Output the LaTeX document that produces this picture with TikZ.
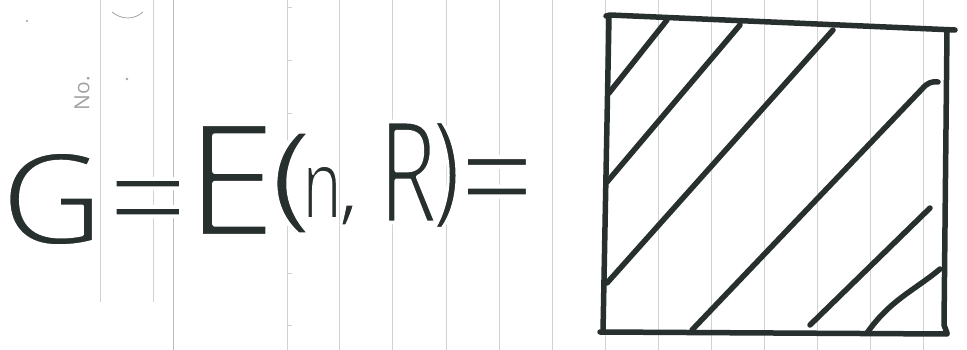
\documentclass[tikz,border=0pt]{standalone}
\usepackage{fontspec}
\usepackage{graphicx}
\newfontfamily\hand{Open Sans}
\newfontfamily\printfont{Open Sans}
\definecolor{ink}{HTML}{27302E}
\definecolor{rulegray}{HTML}{D2D2D2}
\definecolor{rulegraydark}{HTML}{BDBDBD}
\definecolor{printgray}{HTML}{A2A2A2}
% #1 ink width, #2 glyph box width, #3 glyph total height, #4 character
\newcommand\handglyph[4]{\makebox[#1pt][c]{\resizebox*{#2pt}{#3pt}{\rlap{#4}\special{pdf:literal direct 1 Tr 1 J 1 j 2.8 w 1 1 1 RG}#4\special{pdf:literal direct 0 Tr}}}}
\tikzset{
  glyph/.style={inner sep=0pt, outer sep=0pt, text=ink, font=\hand\fontsize{100}{100}\selectfont},
  pen/.style={draw=ink, line width=5.5pt, line cap=round, line join=round},
  paperline/.style={draw=rulegray, line width=0.9pt},
  papertick/.style={draw=rulegray, line width=0.8pt},
}
\begin{document}
\begin{tikzpicture}[x=1pt,y=-1pt]
\useasboundingbox (0,0) rectangle (967,350);
\fill[white] (0,0) rectangle (967,350);

% notebook rules
\foreach \xx in {100,153} \draw[paperline] (\xx,0) -- (\xx,302);
\draw[paperline, draw=rulegraydark] (173,0) -- (173,350);
\foreach \xx in {287,339,392,446,499,552,605,658,711,764,817,870,923}
  \draw[paperline] (\xx,0) -- (\xx,350);
\foreach \yy in {7,60,113,167,218,273,325}
  \draw[papertick] (287,\yy) -- (292,\yy);

% printed marks
\node[font=\printfont\fontsize{21}{21}\selectfont, text=printgray, rotate=90, inner sep=0pt] (no) at (82,93) {No.};
\draw[draw=printgray, line width=0.8pt] (112,12) .. controls (122,20) and (134,20) .. (143,12);
\fill[printgray] (27,21) circle (1.1);
\fill[printgray] (127,79) circle (1.3);

% square frame
\draw[pen] (606,16) -- (610,15) -- (955,30);
\draw[pen] (947,30) -- (944,325) -- (947,333);
\draw[pen] (609,17) -- (603,332);
\draw[pen] (600,332) -- (947,334);

% hatching
\draw[pen] (667,20) -- (609,93);
\draw[pen] (740,25) -- (607,182);
\draw[pen] (833,30) -- (607,283);
\draw[pen] (938,82) .. controls (932,81) and (927,83) .. (922,89) -- (692,330);
\draw[pen] (930,208) -- (810,325);
\draw[pen] (940,269) .. controls (915,290) and (890,300) .. (867,333);

% handwritten formula
\node[glyph] (gG) at (52,199) {\handglyph{89}{105}{94}{G}};
\node[glyph, anchor=north] (gEq1) at (148,179) {\handglyph{67}{84}{68}{=}};
\node[glyph] (gE) at (231,180) {\handglyph{73}{94}{112}{E}};
\node[glyph] (gLp) at (292,183) {\handglyph{28}{46}{102}{(}};
\node[glyph] (gn) at (322,192) {\handglyph{30}{40}{53}{n}};
\node[glyph] (gcomma) at (349,215) {\handglyph{12}{22}{21}{,}};
\node[glyph] (gR) at (408,172) {\handglyph{47}{59}{101}{R}};
\node[glyph] (gRp) at (446,175) {\handglyph{19}{30}{107}{)}};
\node[glyph, anchor=north] (gEq2) at (497,157) {\handglyph{62}{78}{72}{=}};
\end{tikzpicture}
\end{document}
